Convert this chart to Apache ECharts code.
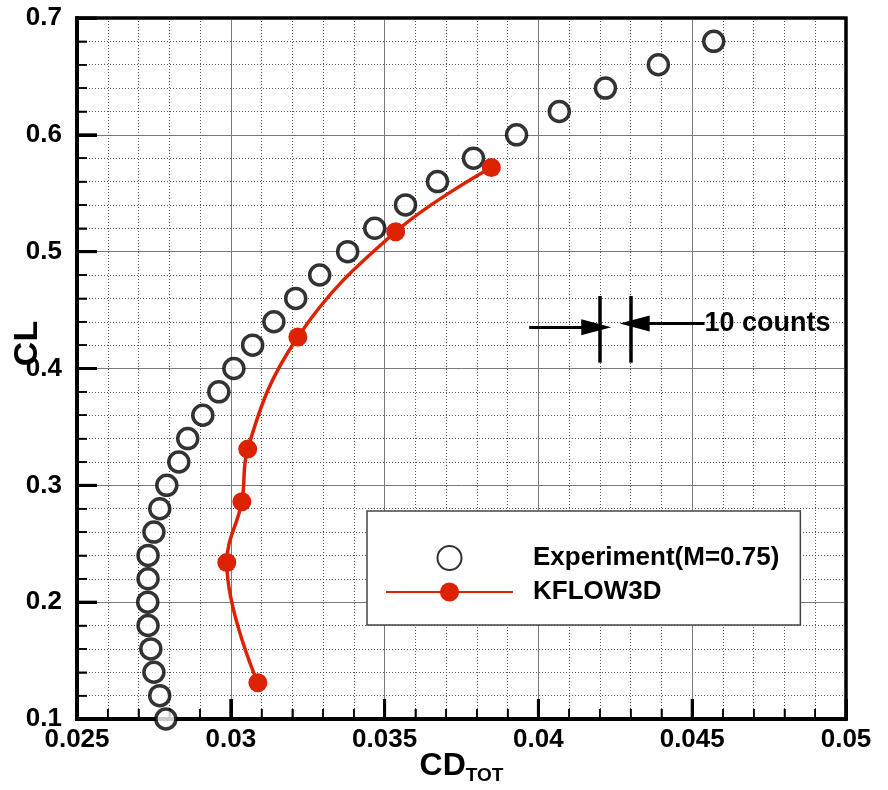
<!DOCTYPE html>
<html>
<head>
<meta charset="utf-8">
<script src="https://cdn.jsdelivr.net/npm/echarts@6/dist/echarts.min.js"></script>
<style>
  html, body { margin: 0; padding: 0; background: #fff; }
  #chart { width: 888px; height: 790px; }
</style>
</head>
<body>
<div id="chart"></div>
<script>
// Wind-tunnel drag polar (CL vs CD_TOT) at M = 0.75
const expCL = [0.10, 0.12, 0.14, 0.16, 0.18, 0.20, 0.22, 0.24, 0.26, 0.28,
               0.30, 0.32, 0.34, 0.36, 0.38, 0.40, 0.42, 0.44, 0.46, 0.48,
               0.50, 0.52, 0.54, 0.56, 0.58, 0.60, 0.62, 0.64, 0.66, 0.68];
const expCD = [0.02789, 0.02769, 0.02750, 0.02740, 0.02731, 0.02730, 0.02731, 0.02731, 0.02750, 0.02769,
               0.02792, 0.02831, 0.02860, 0.02909, 0.02961, 0.03010, 0.03071, 0.03140, 0.03211, 0.03289,
               0.03380, 0.03468, 0.03568, 0.03672, 0.03789, 0.03929, 0.04068, 0.04218, 0.04390, 0.04570];

// KFLOW3D computation
const cfdCL = [0.131, 0.234, 0.286, 0.331, 0.427, 0.517, 0.572];
const cfdCD = [0.03088, 0.02987, 0.03036, 0.03055, 0.03218, 0.03536, 0.03847];

// "10 counts" scale bar (1 count = 0.0001 in CD)
const countBarsX = [0.042, 0.043];
const countBarsY = [0.405, 0.462];
const arrowLeft = [[0.0397, 0.4352], [0.04188, 0.4352]];
const arrowRight = [[0.0454, 0.4386], [0.04313, 0.4386]];
const countLabel = '10 counts';

// axis ranges and ticks
const xMin = 0.025, xMax = 0.05, xStep = 0.005;
const yMin = 0.1, yMax = 0.7, yStep = 0.1;
const minorSplit = 5;

const FONT = "'Liberation Sans', Arial, Helvetica, sans-serif";
const RED = '#dc2200';

const expData = expCD.map((x, i) => [x, expCL[i]]);
const cfdData = cfdCD.map((x, i) => [x, cfdCL[i]]);

// tick marks along the bottom (kind 0) and left (kind 1) edges, plus the frame (kind 2)
const frameMarks = [];
const nx = Math.round((xMax - xMin) / xStep) * minorSplit;
for (let i = 0; i <= nx; i++) frameMarks.push([xMin + i * xStep / minorSplit, 0, i % minorSplit === 0 ? 1 : 0]);
const ny = Math.round((yMax - yMin) / yStep) * minorSplit;
for (let i = 0; i <= ny; i++) frameMarks.push([yMin + i * yStep / minorSplit, 1, i % minorSplit === 0 ? 1 : 0]);
frameMarks.push([0, 2, 0]);

function renderFrame(params, api) {
  const kind = api.value(1);
  const major = api.value(2) === 1;
  if (kind === 0) {
    const p = api.coord([api.value(0), yMin]);
    return { type: 'line', silent: true,
      shape: { x1: p[0], y1: p[1], x2: p[0], y2: p[1] - (major ? 20 : 10) },
      style: { stroke: '#000', lineWidth: major ? 3 : 1.5 } };
  }
  if (kind === 1) {
    const p = api.coord([xMin, api.value(0)]);
    return { type: 'line', silent: true,
      shape: { x1: p[0], y1: p[1], x2: p[0] + (major ? 20 : 10), y2: p[1] },
      style: { stroke: '#000', lineWidth: major ? 3 : 1.5 } };
  }
  const tl = api.coord([xMin, yMax]);
  const br = api.coord([xMax, yMin]);
  return {
    type: 'group', silent: true,
    children: [
      { type: 'rect', shape: { x: tl[0], y: tl[1], width: br[0] - tl[0], height: br[1] - tl[1] },
        style: { fill: 'none', stroke: '#000', lineWidth: 3 } },
      { type: 'line', shape: { x1: tl[0], y1: tl[1] - 1.5, x2: tl[0], y2: br[1] + 2 },
        style: { stroke: '#000', lineWidth: 4 } },
      { type: 'line', shape: { x1: tl[0] - 2, y1: br[1], x2: br[0] + 1.5, y2: br[1] },
        style: { stroke: '#000', lineWidth: 4 } }
    ]
  };
}

function axis(min, max, interval, labelMargin) {
  return {
    type: 'value', min: min, max: max, interval: interval,
    axisLine: { show: true, onZero: false, lineStyle: { color: '#000', width: 4 } },
    axisTick: { show: true, inside: true, length: 20, lineStyle: { color: '#000', width: 3 } },
    minorTick: { show: true, splitNumber: minorSplit, length: 10, lineStyle: { color: '#000', width: 1.5 } },
    splitLine: { show: true, lineStyle: { color: '#7a7a7a', width: 1 } },
    minorSplitLine: { show: true, lineStyle: { color: '#555', width: 1, type: [1, 2] } },
    axisLabel: { color: '#000', fontFamily: FONT, fontWeight: 'bold', fontSize: 26, margin: labelMargin },
    nameLocation: 'middle',
    nameMoveOverlap: false
  };
}

const xAxis = axis(xMin, xMax, xStep, 8);
xAxis.name = '{a|CD}{b|TOT}';
xAxis.nameGap = 29;
xAxis.nameTextStyle = {
  rich: {
    a: { fontFamily: FONT, fontWeight: 'bold', fontSize: 32, color: '#000' },
    b: { fontFamily: FONT, fontWeight: 'bold', fontSize: 19, color: '#000', padding: [18, 0, 0, 0] }
  }
};

const yAxis = axis(yMin, yMax, yStep, 15);
yAxis.name = 'CL';
yAxis.nameGap = 32;
yAxis.nameTextStyle = {
  fontFamily: FONT, fontWeight: 'bold', fontSize: 34, color: '#000',
  padding: [0, 0, 0, 50]
};

const chart = echarts.init(document.getElementById('chart'));

chart.setOption({
  animation: false,
  grid: {
    left: 77, right: 42, top: 18, bottom: 71,
    outerBoundsMode: 'none',
    show: true, borderColor: '#000', borderWidth: 3
  },
  xAxis: xAxis,
  yAxis: yAxis,
  legend: {
    orient: 'vertical',
    left: 367, top: 511,
    padding: [34, 21, 20, 18],
    backgroundColor: '#fff',
    borderColor: '#444', borderWidth: 1.5,
    itemWidth: 127, itemHeight: 24, itemGap: 8,
    textStyle: { fontFamily: FONT, fontWeight: 'bold', fontSize: 26, color: '#000', padding: [0, 0, 0, 15] },
    data: ['Experiment(M=0.75)', 'KFLOW3D']
  },
  series: [
    {
      name: 'frame',
      type: 'custom',
      silent: true,
      clip: false,
      data: frameMarks,
      encode: { x: 0 },
      renderItem: renderFrame,
      z: 2
    },
    {
      name: 'Experiment(M=0.75)',
      type: 'scatter',
      data: expData,
      symbol: 'circle',
      symbolSize: 20,
      itemStyle: { color: '#fff', borderColor: '#000', borderWidth: 3.5 },
      z: 3
    },
    {
      name: 'scale bar',
      type: 'scatter',
      data: [],
      markLine: {
        silent: true,
        symbol: ['none', 'none'],
        label: { show: false },
        lineStyle: { color: '#000', width: 3.5, type: 'solid' },
        data: countBarsX.map(x => [{ coord: [x, countBarsY[0]] }, { coord: [x, countBarsY[1]] }])
      }
    },
    {
      name: 'arrows',
      type: 'scatter',
      data: [],
      markLine: {
        silent: true,
        symbol: ['none', 'triangle'],
        symbolSize: [16, 30],
        label: { show: false },
        lineStyle: { color: '#000', width: 3, type: 'solid' },
        itemStyle: { color: '#000' },
        data: [
          [{ coord: arrowLeft[0] }, { coord: arrowLeft[1] }],
          [{ coord: arrowRight[0] }, { coord: arrowRight[1] }]
        ]
      },
      markPoint: {
        silent: true,
        symbol: 'circle',
        symbolSize: 0,
        label: {
          show: true, position: 'right', distance: 0, formatter: countLabel,
          fontFamily: FONT, fontWeight: 'bold', fontSize: 27, color: '#000'
        },
        data: [{ coord: arrowRight[0] }]
      }
    },
    {
      name: 'KFLOW3D',
      type: 'line',
      data: cfdData,
      smooth: 0.4,
      symbol: 'circle',
      symbolSize: 19,
      showAllSymbol: true,
      lineStyle: { color: RED, width: 3.5 },
      itemStyle: { color: RED },
      z: 4
    }
  ]
});
</script>
</body>
</html>
